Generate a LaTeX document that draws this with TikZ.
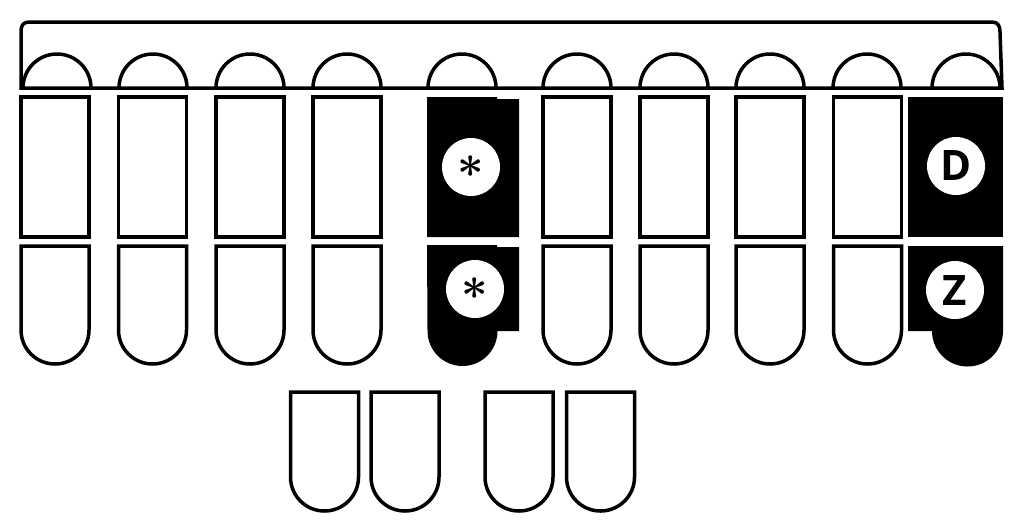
\documentclass[tikz,border=0pt]{standalone}
\usepackage{fontspec}
\usepackage{graphicx}
\setmainfont{Open Sans}
\tikzset{
  keyline/.style={line width=3.5pt, draw=black, line join=miter},
  blackfill/.style={fill=black},
  lettercircle/.style={circle, fill=white, minimum size=58pt, inner sep=0pt, font=\bfseries\fontsize{42}{42}\selectfont},
  starcircle/.style={circle, fill=white, minimum size=58pt, inner sep=0pt},
  starglyph/.style={inner sep=0pt, font=\boldmath},
}
\newcommand{\bigstarglyph}{\raisebox{-1pt}{\scalebox{4.6}{$\ast$}}}
\begin{document}
\begin{tikzpicture}[x=1pt,y=1pt]
\useasboundingbox (0,0) rectangle (1024,-531);
% top bar frame
\draw[keyline, line cap=round] (21,-88) -- (21,-32) .. controls (21,-24) and (24,-22) .. (30,-22) -- (992,-22)
  .. controls (998,-22) and (1000,-26) .. (1000,-32) -- (1002,-88) -- cycle;
% semicircles on the bar
\foreach \c in {57,153,250,347,462,577,674,770,867,966}{
  \draw[keyline] (\c-34,-88) arc[start angle=180,end angle=0,radius=34pt];
}
% upper row keys (white)
\foreach \c in {55,152.5,250,347,577,674,770,867.5}{
  \draw[keyline] (\c-34,-97) rectangle (\c+34,-237);
}
% lower row keys (white)
\foreach \c in {55,152.5,250,347,577,674,770,867.5}{
  \draw[keyline] (\c-34,-246) -- (\c+34,-246) -- (\c+34,-330)
    arc[start angle=0,end angle=-180,radius=34pt] -- cycle;
}
% asterisk keys (black)
\fill[blackfill] (427,-97) -- (497,-97) -- (497,-99) -- (519,-99) -- (519,-237) -- (427,-237) -- cycle;
\fill[blackfill] (427,-245) -- (497,-245) -- (497,-247) -- (519,-247) -- (519,-331) -- (497.5,-331)
  arc[start angle=0,end angle=-180,radius=35pt] -- cycle;
\node[starcircle] (star1) at (471,-167) {};
\node[starglyph] (star1t) at (star1.center) {\bigstarglyph};
\node[starcircle] (star2) at (475,-289) {};
\node[starglyph] (star2t) at (star2.center) {\bigstarglyph};
% D / Z keys (black)
\fill[blackfill] (908,-97) rectangle (1003,-237);
\fill[blackfill] (908,-246) -- (1003,-246) -- (1003,-331)
  arc[start angle=0,end angle=-180,radius=35.5pt] -- (908,-331) -- cycle;
\node[lettercircle] (D) at (956,-166) {D};
\node[lettercircle] (Z) at (955,-290) {Z};
% thumb keys
\foreach \c in {324.5,405,519,600.5}{
  \draw[keyline] (\c-34,-392) -- (\c+34,-392) -- (\c+34,-477)
    arc[start angle=0,end angle=-180,radius=34pt] -- cycle;
}
\end{tikzpicture}
\end{document}
